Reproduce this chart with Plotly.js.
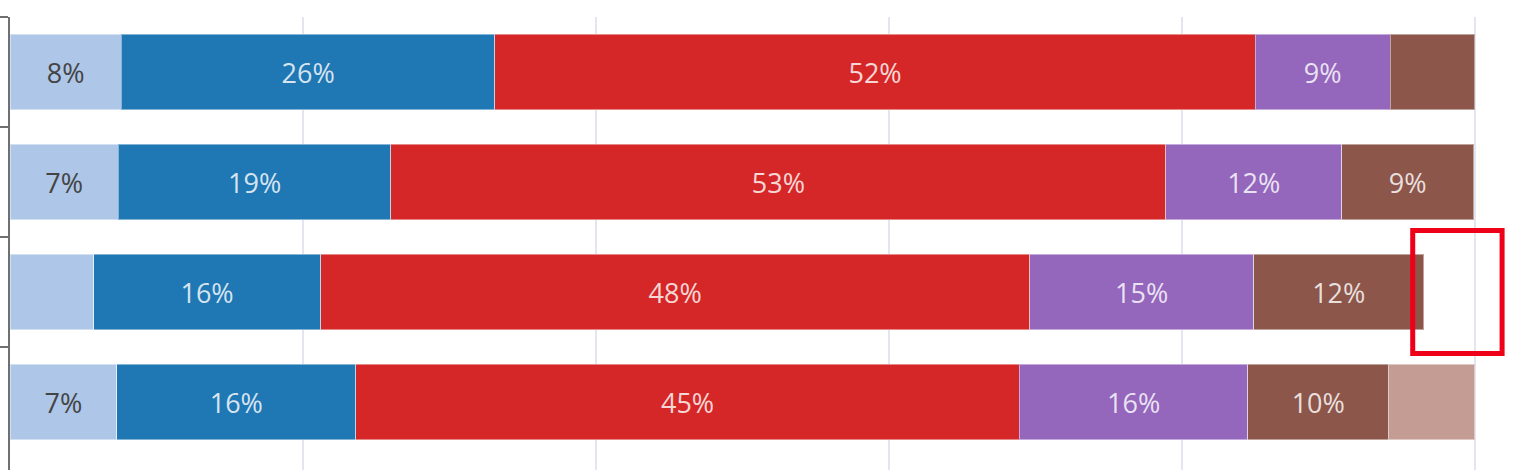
<!DOCTYPE html>
<html>
<head>
<meta charset="utf-8">
<script src="https://cdn.plot.ly/plotly-3.0.1.min.js"></script>
<style>html,body{margin:0;padding:0;background:#fff;overflow:hidden}#chart{width:1526px;height:470px}</style>
</head>
<body>
<div id="chart"></div>
<script>
// Categories (rows, top to bottom) — their labels are outside the visible crop
const categories = ['Group 1', 'Group 2', 'Group 3', 'Group 4'];
// Series values (percent of each row)
const seriesNames = ['S1', 'S2', 'S3', 'S4', 'S5', 'S6'];
const s1 = [7.6, 7.4, 5.7, 7.3];
const s2 = [25.5, 18.6, 15.5, 16.3];
const s3 = [51.9, 52.9, 48.4, 45.3];
const s4 = [9.2, 12.0, 15.3, 15.6];
const s5 = [5.8, 9.0, 11.6, 9.6];
const s6 = [null, null, null, 5.9];
const xTicks = [0, 20, 40, 60, 80, 100];
const highlightRow = 'Group 3';

const values = [s1, s2, s3, s4, s5, s6];
const colors = ['#aec7e8', '#1f77b4', '#d62728', '#9467bd', '#8c564b', '#c49c94'];
const textColors = ['#444444', 'rgba(255,255,255,0.82)', 'rgba(255,255,255,0.82)',
                    'rgba(255,255,255,0.82)', 'rgba(255,255,255,0.82)', 'rgba(255,255,255,0.82)'];
const labelMin = 7;

const traces = values.map((vals, i) => ({
  type: 'bar',
  orientation: 'h',
  name: seriesNames[i],
  y: categories,
  x: vals,
  text: vals.map(v => (v != null && v >= labelMin) ? Math.round(v) + '%' : ''),
  textposition: 'inside',
  insidetextanchor: 'middle',
  textangle: 0,
  constraintext: 'none',
  textfont: {family: 'Open Sans, sans-serif', size: 27, color: textColors[i]},
  marker: {color: colors[i], line: {color: 'rgba(255,255,255,0.45)', width: 1}},
  hoverinfo: 'x+y+name'
}));

const hIdx = categories.indexOf(highlightRow);
const hSum = values.reduce((a, arr) => a + (arr[hIdx] || 0), 0);

const layout = {
  width: 1526, height: 470,
  margin: {l: 10, r: 16, t: 17, b: 0, pad: 0},
  paper_bgcolor: '#ffffff', plot_bgcolor: '#ffffff',
  barmode: 'stack',
  bargap: 0.31,
  showlegend: false,
  xaxis: {
    range: [0, 102.39], tickvals: xTicks, showticklabels: false,
    showgrid: true, gridcolor: '#e3e5f2', gridwidth: 1.5,
    zeroline: false, showline: false, ticks: ''
  },
  yaxis: {
    type: 'category', categoryorder: 'array', categoryarray: categories,
    range: [3.618, -0.5], autorange: false,
    showticklabels: false, showgrid: false, zeroline: false,
    showline: true, linecolor: '#707070', linewidth: 2,
    ticks: 'outside', tickson: 'boundaries', ticklen: 9, tickwidth: 2, tickcolor: '#707070'
  },
  shapes: [{
    type: 'rect', xref: 'x', yref: 'y',
    x0: hSum - 0.75, x1: 101.85,
    y0: hIdx - 0.56, y1: hIdx + 0.56,
    line: {color: '#ee0018', width: 5}, fillcolor: 'rgba(0,0,0,0)'
  }]
};

Plotly.newPlot('chart', traces, layout, {displayModeBar: false, staticPlot: true});
</script>
</body>
</html>
